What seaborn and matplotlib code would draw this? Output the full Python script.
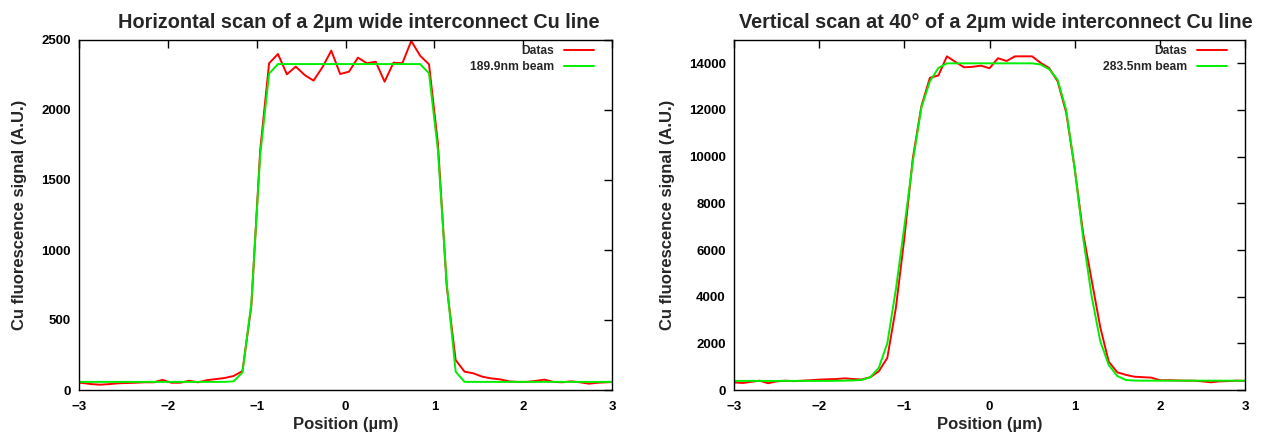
import numpy as np
import pandas as pd
import matplotlib
matplotlib.use("Agg")
import matplotlib.pyplot as plt
import seaborn as sns

# ---------------- data: horizontal scan ----------------
h_pos = [-3.06, -2.96, -2.86, -2.76, -2.66, -2.56, -2.46, -2.36, -2.26, -2.16,
         -2.06, -1.96, -1.86, -1.76, -1.66, -1.56, -1.46, -1.36, -1.26, -1.16,
         -1.06, -0.96, -0.86, -0.76, -0.66, -0.56, -0.46, -0.36, -0.26, -0.16,
         -0.06, 0.04, 0.14, 0.24, 0.34, 0.44, 0.54, 0.64, 0.74, 0.84,
         0.94, 1.04, 1.14, 1.24, 1.34, 1.44, 1.54, 1.64, 1.74, 1.84,
         1.94, 2.04, 2.14, 2.24, 2.34, 2.44, 2.54, 2.64, 2.74, 2.84,
         2.94, 3.04]
h_data = [55, 50, 42, 38, 42, 48, 50, 52, 55, 55,
          72, 52, 52, 66, 55, 70, 78, 86, 100, 135,
          600, 1714, 2334, 2400, 2255, 2310, 2250, 2210, 2305, 2424,
          2257, 2274, 2374, 2334, 2345, 2202, 2338, 2334, 2493, 2388,
          2326, 1762, 738, 214, 131, 119, 95, 83, 76, 62,
          58, 58, 65, 74, 58, 55, 62, 55, 45, 52,
          55, 58]
h_fit = [58, 58, 58, 58, 58, 58, 58, 58, 58, 58,
         58, 58, 58, 58, 58, 58, 58, 58, 62, 125,
         620, 1680, 2260, 2328, 2328, 2328, 2328, 2328, 2328, 2328,
         2328, 2328, 2328, 2328, 2328, 2328, 2328, 2328, 2328, 2328,
         2262, 1714, 760, 131, 58, 58, 58, 58, 58, 58,
         58, 58, 58, 58, 58, 58, 58, 58, 58, 58,
         58, 58]

# ---------------- data: vertical scan at 40 deg ----------------
v_pos = [-3.0, -2.9, -2.8, -2.7, -2.6, -2.5, -2.4, -2.3, -2.2, -2.1,
         -2.0, -1.9, -1.8, -1.7, -1.6, -1.5, -1.4, -1.3, -1.2, -1.1,
         -1.0, -0.9, -0.8, -0.7, -0.6, -0.5, -0.4, -0.3, -0.2, -0.1,
         0.0, 0.1, 0.2, 0.3, 0.4, 0.5, 0.6, 0.7, 0.8, 0.9,
         1.0, 1.1, 1.2, 1.3, 1.4, 1.5, 1.6, 1.7, 1.8, 1.9,
         2.0, 2.1, 2.2, 2.3, 2.4, 2.5, 2.6, 2.7, 2.8, 2.9,
         3.0]
v_data = [325, 300, 350, 400, 290, 370, 400, 380, 400, 420,
          445, 460, 470, 500, 470, 450, 550, 800, 1375, 3500,
          6500, 9940, 12160, 13380, 13480, 14300, 14060, 13830, 13850, 13900,
          13790, 14220, 14100, 14300, 14300, 14300, 14020, 13800, 13230, 11900,
          9500, 6700, 4700, 2700, 1215, 760, 650, 570, 550, 530,
          420, 420, 410, 400, 400, 370, 330, 370, 380, 400,
          390]
v_fit = [390, 390, 390, 390, 390, 390, 390, 390, 390, 390,
         390, 390, 395, 400, 410, 430, 550, 950, 2000, 4300,
         7000, 9800, 12100, 13230, 13800, 14000, 14000, 14000, 14000, 14000,
         14000, 14000, 14000, 14000, 14000, 14000, 13950, 13750, 13300, 12000,
         9500, 6500, 4000, 2100, 1070, 600, 430, 405, 400, 400,
         400, 400, 400, 400, 400, 400, 400, 400, 400, 400,
         400]

titles = ["Horizontal scan of a 2\u00b5m wide interconnect Cu line",
          "Vertical scan at 40\u00b0 of a 2\u00b5m wide interconnect Cu line"]
fit_labels = ["189.9nm beam", "283.5nm beam"]
y_ticks = [[0, 500, 1000, 1500, 2000, 2500],
           [0, 2000, 4000, 6000, 8000, 10000, 12000, 14000]]
y_lims = [(0, 2500), (0, 15000)]
x_ticks = [-3, -2, -1, 0, 1, 2, 3]

sns.set_style("white")
plt.rcParams["font.family"] = ["Liberation Sans", "DejaVu Sans"]
plt.rcParams["font.weight"] = "bold"

fig = plt.figure(figsize=(12.69, 4.36), dpi=100)
widths = [533, 511]
ax1 = fig.add_axes([79 / 1269, 46 / 436, widths[0] / 1269, 350 / 436])
ax2 = fig.add_axes([734 / 1269, 46 / 436, widths[1] / 1269, 350 / 436])
title_shift = [13, 6]

panels = [(ax1, h_pos, h_data, h_fit), (ax2, v_pos, v_data, v_fit)]
for i, (ax, pos, dat, fit) in enumerate(panels):
    df = pd.DataFrame({"pos": pos, "Datas": dat, fit_labels[i]: fit})
    long = df.melt(id_vars="pos", var_name="series", value_name="signal")
    sns.lineplot(data=long, x="pos", y="signal", hue="series",
                 palette={"Datas": "#ff0000", fit_labels[i]: "#00ee00"},
                 linewidth=1.4, ax=ax, sort=False, estimator=None)
    ax.set_xlim(-3, 3)
    ax.set_ylim(*y_lims[i])
    ax.set_xticks(x_ticks)
    ax.set_xticklabels([f"{t}" if t >= 0 else f"\u2212{abs(t)}" for t in x_ticks])
    ax.set_yticks(y_ticks[i])
    ax.tick_params(direction="in", length=6, width=1, top=True, right=True,
                   labelsize=9.5, colors="black")
    ax.tick_params(axis="x", pad=8)
    ax.tick_params(axis="y", pad=6)
    for lab in ax.get_xticklabels() + ax.get_yticklabels():
        lab.set_fontweight("bold")
    for s in ax.spines.values():
        s.set_color("black")
        s.set_linewidth(1.0)
    ax.set_xlabel("Position (\u00b5m)", fontsize=12, fontweight="bold", labelpad=3)
    ax.set_ylabel("Cu fluorescence signal (A.U.)", fontsize=12, fontweight="bold", labelpad=10)
    ax.set_title(titles[i], fontsize=14.3, fontweight="bold", pad=9,
                 x=0.5 + title_shift[i] / widths[i])
    leg = ax.legend(loc="upper right", frameon=False, markerfirst=False,
                    fontsize=8.7, handlelength=2.5, borderaxespad=0.0,
                    labelspacing=0.35, handletextpad=0.8,
                    bbox_to_anchor=(1 - 13 / widths[i], 1.0))
    for t in leg.get_texts():
        t.set_fontweight("bold")

fig.savefig("out.png", dpi=100)
